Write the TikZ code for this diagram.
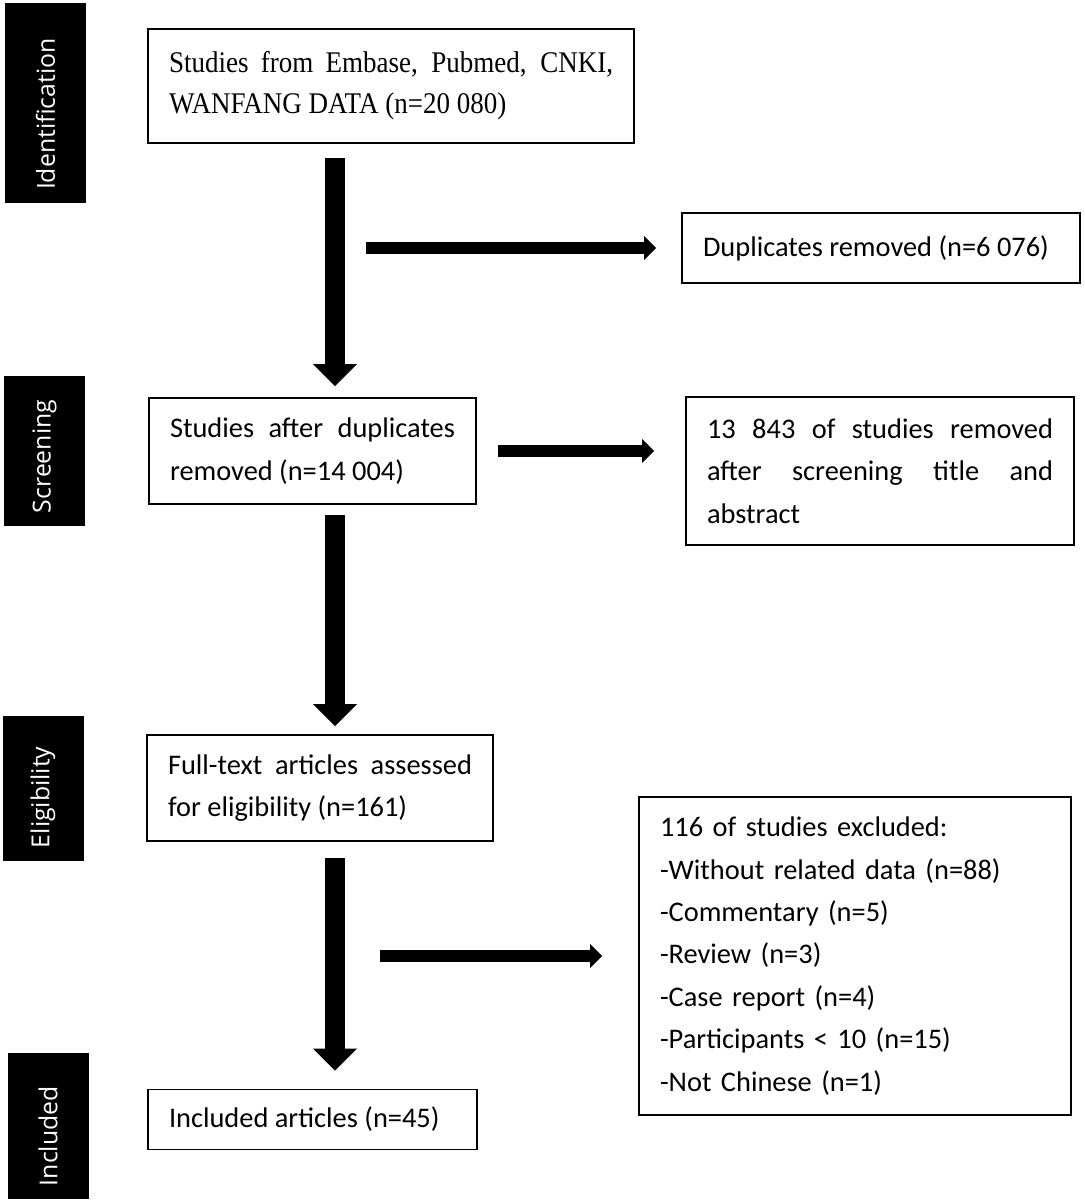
\documentclass[tikz,border=0pt]{standalone}
\usepackage{fontspec}
\setmainfont{Carlito}
\newfontfamily\timesfont[FakeStretch=0.9]{Liberation Serif}
\newfontfamily\stagefont{Open Sans}
\usetikzlibrary{positioning,arrows.meta}

\begin{document}
\begin{tikzpicture}[x=0.5pt,y=-0.5pt,every node/.style={font=\fontsize{14.2}{21.2}\selectfont},box/.style={draw,line width=0.9pt,inner xsep=10.5pt,inner ysep=0pt,align=justify},stage/.style={fill=black,text=white,rotate=90,inner xsep=6.5pt,inner ysep=0pt,minimum height=40.5pt,align=left,font=\stagefont\fontsize{12.4}{15}\selectfont},mainarrow/.style={line width=10pt,-{Triangle[width=22pt,length=11pt,line width=0pt]}},sidearrow/.style={line width=6pt,-{Triangle[width=12pt,length=6pt,line width=0pt]}}]
\useasboundingbox (0,0) rectangle (1084,1202);
\coordinate (spine) at (335,0);
\node[stage,text width=87pt] (ident) at (45.5,103){Identification};
\node[stage,text width=62pt] (screen) at (44.5,451){Screening};
\node[stage,text width=59.5pt] (elig) at (43,788.5){Eligibility};
\node[stage,text width=60pt] (inclst) at (48,1126){Included};
\node[box,text width=222pt,minimum height=57pt,font=\timesfont\fontsize{15}{20.5}\selectfont] (src) at (391,86){Studies from Embase, Pubmed, CNKI,\linebreak WANFANG DATA (n=20 080)};
\node[box,text width=178pt,minimum height=35pt] (dup) at (881,248){Duplicates removed (n=6 076)};
\node[box,text width=142.5pt,minimum height=53pt] (scr) at (312.5,451){Studies after duplicates\linebreak removed (n=14 004)};
\node[box,text width=173pt,minimum height=74pt] (rem) at (880,471){13 843 of studies removed\linebreak after screening title and\linebreak abstract};
\node[box,text width=152pt,minimum height=53pt] (full) at (320,788){Full-text articles assessed\linebreak for eligibility (n=161)};
\node[box,text width=195pt,minimum height=159pt,align=left] (excl) at (855,956){116 of studies excluded:\\-Without related data (n=88)\\-Commentary (n=5)\\-Review (n=3)\\-Case report (n=4)\\-Participants < 10 (n=15)\\-Not Chinese (n=1)};
\node[box,text width=143.5pt,minimum height=30pt] (incl) at (312.5,1119.5){Included articles (n=45)};
\draw[mainarrow,shorten <=7pt,shorten >=5.5pt](spine|-src.south)--(spine|-scr.north);
\draw[mainarrow,shorten <=5pt,shorten >=4pt](spine|-scr.south)--(spine|-full.north);
\draw[mainarrow,shorten <=8pt,shorten >=9pt](spine|-full.south)--(spine|-incl.north);
\draw[sidearrow,shorten <=15.5pt,shorten >=12.5pt](spine|-dup.west)--(dup.west);
\draw[sidearrow,shorten <=10.5pt,shorten >=15.5pt](scr.east)--(scr.east-|rem.west);
\draw[sidearrow,shorten <=22.5pt,shorten >=18pt](spine|-excl.west)--(excl.west);
\end{tikzpicture}
\end{document}
